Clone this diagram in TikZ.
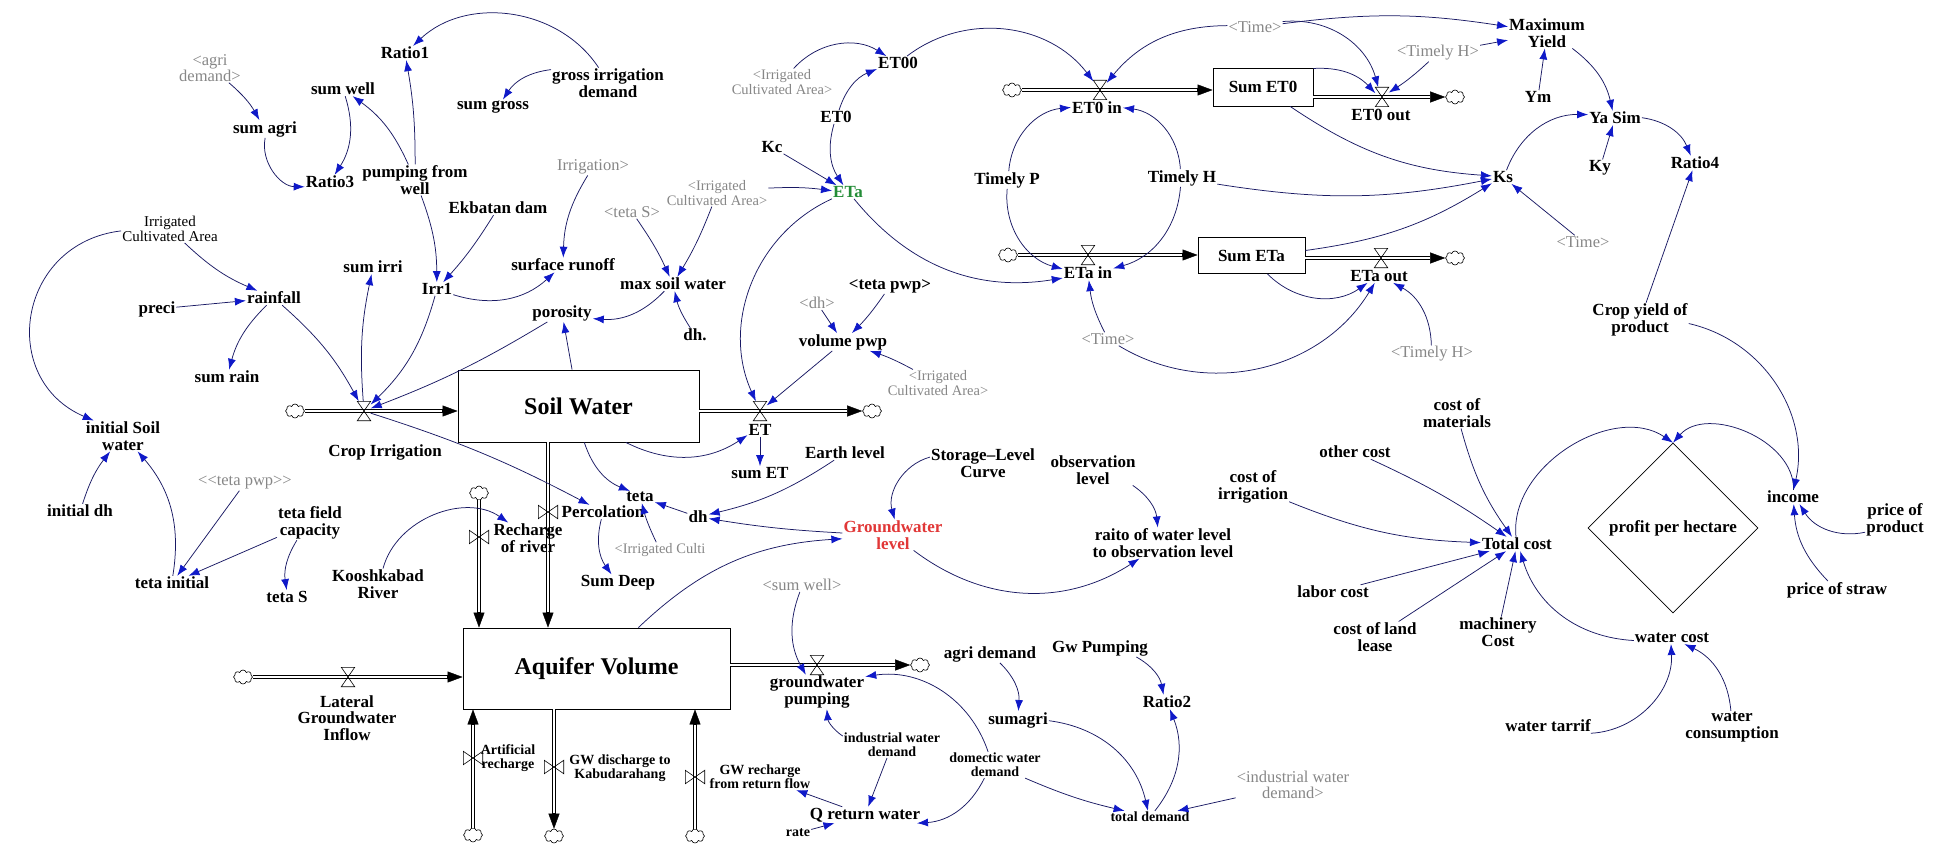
\documentclass[tikz,border=0pt]{standalone}
\usepackage{fontspec}
\setmainfont{Liberation Serif}
\usetikzlibrary{arrows.meta, shapes.geometric, shapes.symbols}

\definecolor{linkblue}{RGB}{25,25,100}
\definecolor{tipblue}{RGB}{15,25,200}
\definecolor{shadowgray}{RGB}{135,135,135}
\definecolor{gwred}{RGB}{225,55,55}
\definecolor{etagreen}{RGB}{35,140,55}

\newcommand\mainvarfont{\fontsize{17}{16.5}\selectfont\bfseries}
\newcommand\smallvarfont{\fontsize{14}{14}\selectfont\bfseries}
\newcommand\plainvarfont{\fontsize{15}{15}\selectfont}
\newcommand\shadowvarfont{\fontsize{16.5}{16}\selectfont}
\newcommand\smallshadowfont{\fontsize{14.5}{14.5}\selectfont}
\newcommand\stockfont{\fontsize{24}{24}\selectfont\bfseries}

\tikzset{
  var/.style={font=\mainvarfont, align=center, inner sep=1pt},
  smallvar/.style={font=\smallvarfont, align=center, inner sep=1pt},
  plainvar/.style={font=\plainvarfont, align=center, inner sep=1pt},
  shadowvar/.style={font=\shadowvarfont, text=shadowgray, align=center, inner sep=1pt},
  smallshadow/.style={font=\smallshadowfont, text=shadowgray, align=center, inner sep=1pt},
  stock/.style={draw, line width=0.9pt, inner sep=0pt},
  link/.style={draw=linkblue, line width=0.75pt, -{Latex[length=11pt, width=8pt, color=tipblue]}},
  pipe/.style={draw, line width=4.2pt, -{Triangle[length=15pt, width=11pt, line width=0.4pt]},
    postaction={draw=white, line width=2.2pt, -, shorten >=15.5pt}},
  valveh/.style={minimum width=13pt, minimum height=19pt, inner sep=0pt},
  valvev/.style={minimum width=19pt, minimum height=13pt, inner sep=0pt},
  valveline/.style={draw, line width=0.6pt},
  cloudbub/.style={cloud, cloud puffs=8, aspect=1.4, draw, fill=white, line width=0.6pt,
    minimum width=19pt, minimum height=14pt, inner sep=0pt},
}

\begin{document}
\begin{tikzpicture}[x=1pt, y=-1pt]
\useasboundingbox[fill=white] (0,0) rectangle (1943,848);

% stocks
\node[stock, minimum width=241pt, minimum height=72pt, font=\stockfont] (sw) at (578.5,406) {Soil Water};
\node[stock, minimum width=267pt, minimum height=81pt, font=\stockfont] (aq) at (596.5,668.5) {Aquifer Volume};
\node[stock, minimum width=100pt, minimum height=38pt, font=\mainvarfont] (set0) at (1263,87) {Sum ET0};
\node[stock, minimum width=107pt, minimum height=36pt, font=\mainvarfont] (seta) at (1251.5,255.5) {Sum ETa};

% clouds and valves
\node[cloudbub] (ccia) at (295,411) {};
\node[cloudbub] (cet) at (872,411) {};
\node[cloudbub] (crr) at (479,493) {};
\node[cloudbub] (clat) at (243,677) {};
\node[cloudbub] (cart) at (473,835) {};
\node[cloudbub] (cgwd) at (554,836) {};
\node[cloudbub] (cgwr) at (695,836) {};
\node[cloudbub] (cgwp) at (920,665) {};
\node[cloudbub] (ceti) at (1012,90) {};
\node[cloudbub] (ceto) at (1455,97) {};
\node[cloudbub] (cetai) at (1008,255) {};
\node[cloudbub] (cetao) at (1455,258) {};

\node[valveh] (vci) at (364,411) {};
\node[valveh] (vet) at (760,411) {};
\node[valveh] (vlat) at (348,677) {};
\node[valveh] (vgwp) at (817,665) {};
\node[valveh] (veti) at (1100,90) {};
\node[valveh] (veto) at (1382,97) {};
\node[valveh] (vetai) at (1088,255) {};
\node[valveh] (vetao) at (1381,258) {};
\node[valvev] (vperc) at (548,512) {};
\node[valvev] (vrr) at (479,537) {};
\node[valvev] (vart) at (473,758) {};
\node[valvev] (vgwd) at (554,767) {};
\node[valvev] (vgwr) at (695,777) {};

\draw[pipe] (ccia) -- (sw.west |- ccia);
\draw[pipe] (sw.east |- vet) -- (cet);
\draw[pipe] (sw.south -| vperc) -- (aq.north -| vperc);
\draw[pipe] (crr) -- (aq.north -| crr);
\draw[pipe] (clat) -- (aq.west |- clat);
\draw[pipe] (cart) -- (aq.south -| cart);
\draw[pipe] (aq.south -| cgwd) -- (cgwd);
\draw[pipe] (cgwr) -- (aq.south -| cgwr);
\draw[pipe] (aq.east |- vgwp) -- (cgwp);
\draw[pipe] (ceti) -- (set0.west |- ceti);
\draw[pipe] (set0.east |- veto) -- (ceto);
\draw[pipe] (cetai) -- (seta.west |- cetai);
\draw[pipe] (seta.east |- vetao) -- (cetao);

\foreach \v in {vci,vet,vlat,vgwp,veti,veto,vetai,vetao}
  \draw[valveline] (\v.north west) -- (\v.north east) -- (\v.south west) -- (\v.south east) -- cycle;
\foreach \v in {vperc,vrr,vart,vgwd,vgwr}
  \draw[valveline] (\v.north west) -- (\v.south west) -- (\v.north east) -- (\v.south east) -- cycle;

% flow labels
\node[var] (lci) at (385,452) {Crop Irrigation};
\node[var] (let) at (760,430) {ET};
\node[var] (lperc) at (603,512) {Percolation};
\node[var] (lrr) at (528,538) {Recharge\\of river};
\node[var] (llat) at (347,718) {Lateral\\Groundwater\\Inflow};
\node[smallvar] (lart) at (508,758) {Artificial\\recharge};
\node[smallvar] (lgwd) at (620,768) {GW discharge to\\Kabudarahang};
\node[smallvar] (lgwr) at (760,777) {GW recharge\\from return flow};
\node[var] (lgwp) at (817,692) {groundwater\\pumping};
\node[var] (leti) at (1097,108) {ET0 in};
\node[var] (leto) at (1381,115) {ET0 out};
\node[var] (letai) at (1088,273) {ETa in};
\node[var] (letao) at (1379,276) {ETa out};

% variables
\node[var] (ratioone) at (405,53) {Ratio1};
\node[shadowvar] (agrish) at (210,68) {<agri\\demand>};
\node[var] (sumwell) at (343,89) {sum well};
\node[var] (sumagri) at (265,129) {sum agri};
\node[var] (ratiothree) at (330,182) {Ratio3};
\node[var] (pumpwell) at (415,180) {pumping from\\well};
\node[var] (ekbatan) at (498,208) {Ekbatan dam};
\node[var] (gidemand) at (608,83) {gross irrigation\\demand};
\node[var] (sumgross) at (493,107) {sum gross};
\node[plainvar] (irrca) at (170,229) {Irrigated\\Cultivated Area};
\node[var] (sumirri) at (373,267) {sum irri};
\node[var] (irrone) at (437,289) {Irr1};
\node[var] (rainfall) at (274,298) {rainfall};
\node[var] (preci) at (157,309) {preci};
\node[var] (sumrain) at (227,377) {sum rain};
\node[shadowvar] (irrish) at (593,167) {Irrigation>};
\node[shadowvar] (tetash) at (632,212) {<teta S>};
\node[smallshadow] (irrcab) at (717,193) {<Irrigated\\Cultivated Area>};
\node[var] (surfrun) at (563,265) {surface runoff};
\node[var] (maxsw) at (673,284) {max soil water};
\node[var] (porosity) at (562,313) {porosity};
\node[var] (dhdot) at (695,335) {dh.};
\node[smallshadow] (irrcaa) at (782,82) {<Irrigated\\Cultivated Area>};
\node[var] (etoo) at (898,63) {ET00};
\node[var] (etzero) at (836,117) {ET0};
\node[var] (kc) at (772,147) {Kc};
\node[var, text=etagreen] (eta) at (848,192) {ETa};
\node[shadowvar] (dhsh) at (817,303) {<dh>};
\node[var] (tetapwp) at (890,286) {<teta pwp>};
\node[var] (volpwp) at (843,342) {volume pwp};
\node[smallshadow] (irrcac) at (938,383) {<Irrigated\\Cultivated Area>};
\node[var] (sumet) at (760,473) {sum ET};
\node[var] (earth) at (845,453) {Earth level};
\node[var] (teta) at (640,497) {teta};
\node[var] (dh) at (698,517) {dh};
\node[smallshadow] (irrcad) at (660,550) {<Irrigated Culti};
\node[var] (sumdeep) at (618,583) {Sum Deep};
\node[var, text=gwred] (gwlevel) at (893,535) {Groundwater\\level};
\node[var] (slcurve) at (983,463) {Storage–Level\\Curve};
\node[var] (obslevel) at (1093,470) {observation\\level};
\node[var] (raito) at (1163,543) {raito of water level\\to observation level};
\node[shadowvar] (sumwellsh) at (802,585) {<sum well>};
\node[smallvar] (indwd) at (892,745) {industrial water\\demand};
\node[var] (qret) at (865,815) {Q return water};
\node[smallvar] (rate) at (798,833) {rate};
\node[smallvar] (domwd) at (995,765) {domectic water\\demand};
\node[var] (agrid) at (990,654) {agri demand};
\node[var] (gwpump) at (1100,648) {Gw Pumping};
\node[var] (sumagrib) at (1018,720) {sumagri};
\node[var] (ratiotwo) at (1167,702) {Ratio2};
\node[smallvar] (totdem) at (1150,817) {total demand};
\node[shadowvar] (indwdsh) at (1293,785) {<industrial water\\demand>};
\node[var] (othercost) at (1355,452) {other cost};
\node[var] (costirr) at (1253,487) {cost of\\irrigation};
\node[var] (labor) at (1333,592) {labor cost};
\node[var] (landlease) at (1375,637) {cost of land\\lease};
\node[var] (costmat) at (1457,413) {cost of\\materials};
\node[var] (machinery) at (1498,632) {machinery\\Cost};
\node[var] (totcost) at (1517,544) {Total cost};
\node[diamond, draw, line width=0.6pt, minimum width=170pt, minimum height=170pt, inner sep=0pt] (profit) at (1673,528) {};
\node[var] (profittxt) at (profit.center) {profit per hectare};
\node[var] (income) at (1793,497) {income};
\node[var] (priceprod) at (1895,520) {price of\\product};
\node[var] (pricestraw) at (1837,590) {price of straw};
\node[var] (watercost) at (1672,638) {water cost};
\node[var] (watertar) at (1548,726) {water tarrif};
\node[var] (watercons) at (1732,727) {water\\consumption};
\node[var] (maxyield) at (1547,33) {Maximum\\Yield};
\node[var] (ym) at (1538,97) {Ym};
\node[var] (yasim) at (1615,118) {Ya Sim};
\node[var] (ky) at (1600,168) {Ky};
\node[var] (ratiofour) at (1695,163) {Ratio4};
\node[var] (ks) at (1503,177) {Ks};
\node[shadowvar] (timesha) at (1583,242) {<Time>};
\node[var] (cropyield) at (1640,320) {Crop yield of\\product};
\node[shadowvar] (timeshb) at (1255,27) {<Time>};
\node[shadowvar] (timelyhsha) at (1438,53) {<Timely H>};
\node[var] (timelyp) at (1007,180) {Timely P};
\node[var] (timelyh) at (1182,178) {Timely H};
\node[shadowvar] (timeshc) at (1108,339) {<Time>};
\node[shadowvar] (timelyhshb) at (1432,354) {<Timely H>};
\node[var] (initsw) at (123,436) {initial Soil\\water};
\node[var] (initdh) at (80,511) {initial dh};
\node[shadowvar] (tetapwpsh) at (245,483) {<\kern0pt<teta pwp>\kern0pt>};
\node[var] (tetafc) at (310,523) {teta field\\capacity};
\node[var] (tetainit) at (172,583) {teta initial};
\node[var] (tetas) at (287,597) {teta S};
\node[var] (koosh) at (378,584) {Kooshkabad\\River};

% links
\draw[link] (gidemand) to[bend right=50] (ratioone);
\draw[link] (gidemand) to[bend right=25] (sumgross);
\draw[link] (pumpwell) to[bend right=5] (ratioone);
\draw[link] (pumpwell) to[bend right=15] (sumwell);
\draw[link] (sumwell) to[bend left=25] (ratiothree);
\draw[link] (agrish) to[bend left=10] (sumagri);
\draw[link] (sumagri) to[bend right=50] (ratiothree);
\draw[link] (pumpwell) to[bend left=10] (irrone);
\draw[link] (ekbatan) to[bend left=5] (irrone);
\draw[link] (irrca) to[bend right=10] (rainfall);
\draw[link] (irrca) to[bend right=75, looseness=1.4] (initsw);
\draw[link] (preci) -- (rainfall);
\draw[link] (rainfall) to[bend right=15] (sumrain);
\draw[link] (rainfall) to[bend left=10] (vci);
\draw[link] (vci) to[bend left=8] (sumirri);
\draw[link] (irrone) to[bend left=15] (vci);
\draw[link] (porosity) to[bend left=5] (vci);
\draw[link] (irrone) to[bend right=30] (surfrun);
\draw[link] (irrish) to[bend right=15] (surfrun);
\draw[link] (tetash) to[bend left=5] (maxsw);
\draw[link] (irrcab) to[bend left=5] (maxsw);
\draw[link] (maxsw) to[bend left=25] (porosity);
\draw[link] (dhdot) to[bend left=10] (maxsw);
\draw[link] (sw) -- (porosity);
\draw[link] (vci) to[bend left=5] (lperc);
\draw[link] (sw) to[bend right=25] (teta);
\draw[link] (sw) to[bend right=30] (let);
\draw[link] (let) -- (sumet);
\draw[link] (eta) to[bend right=45] (vet);
\draw[link] (volpwp) -- (vet);
\draw[link] (dhsh) -- (volpwp);
\draw[link] (tetapwp) to[bend left=5] (volpwp);
\draw[link] (irrcac) to[bend right=5] (volpwp);
\draw[link] (dh) -- (teta);
\draw[link] (earth) to[bend left=10] (dh);
\draw[link] (gwlevel) to[bend left=3] (dh);
\draw[link] (irrcad) to[bend left=5] (teta);
\draw[link] (lperc) to[bend right=25] (sumdeep);
\draw[link] (slcurve) to[bend right=45] (gwlevel);
\draw[link] (aq) to[bend left=20] (gwlevel);
\draw[link] (gwlevel) to[bend right=35] (raito);
\draw[link] (obslevel) to[bend left=25] (raito);
\draw[link] (koosh) to[bend left=55] (lrr);
\draw[link] (sumwellsh) to[bend right=25] (lgwp);
\draw[link] (domwd) to[bend right=40] (lgwp);
\draw[link] (indwd) to[bend left=25] (lgwp);
\draw[link] (indwd) -- (qret);
\draw[link] (domwd) to[bend left=30] (qret);
\draw[link] (qret) -- (lgwr);
\draw[link] (rate) -- (qret);
\draw[link] (agrid) to[bend left=25] (sumagrib);
\draw[link] (gwpump) to[bend left=25] (ratiotwo);
\draw[link] (sumagrib) to[bend left=35] (totdem);
\draw[link] (totdem) to[bend right=30] (ratiotwo);
\draw[link] (domwd) to[bend right=5] (totdem);
\draw[link] (indwdsh) -- (totdem);
\draw[link] (othercost) to[bend left=5] (totcost);
\draw[link] (costirr) to[bend right=10] (totcost);
\draw[link] (labor) -- (totcost);
\draw[link] (landlease) -- (totcost);
\draw[link] (costmat) to[bend right=10] (totcost);
\draw[link] (machinery) -- (totcost);
\draw[link] (totcost) to[bend left=65] (profit.north);
\draw[link] (income) to[bend right=70] (profit.north);
\draw[link] (cropyield) to[bend left=45] (income);
\draw[link] (priceprod) to[bend left=35] (income);
\draw[link] (pricestraw) to[bend left=20] (income);
\draw[link] (watercost) to[bend left=35] (totcost);
\draw[link] (watertar) to[bend right=45] (watercost);
\draw[link] (watercons) to[bend right=30] (watercost);
\draw[link] (cropyield) -- (ratiofour);
\draw[link] (yasim) to[bend left=30] (ratiofour);
\draw[link] (maxyield) to[bend left=20] (yasim);
\draw[link] (ym) -- (maxyield);
\draw[link] (ky) -- (yasim);
\draw[link] (ks) to[bend left=35] (yasim);
\draw[link] (timesha) -- (ks);
\draw[link] (set0) to[bend right=15] (ks);
\draw[link] (timelyh) to[bend right=10] (ks);
\draw[link] (seta) to[bend right=12] (ks);
\draw[link] (set0) to[bend left=25] (veto);
\draw[link] (timeshb) to[bend left=40] (veto);
\draw[link] (timeshb) to[bend left=8] (maxyield);
\draw[link] (timeshb) to[bend right=25] (veti);
\draw[link] (etoo) to[bend left=45] (veti);
\draw[link] (irrcaa) to[bend left=40] (etoo);
\draw[link] (etzero) to[bend left=25] (etoo);
\draw[link] (etzero) to[bend right=25] (eta);
\draw[link] (kc) -- (eta);
\draw[link] (irrcab) to[bend left=5] (eta);
\draw[link] (eta) to[bend right=30] (letai);
\draw[link] (timelyp) to[bend left=40] (leti);
\draw[link] (timelyp) to[bend right=40] (letai);
\draw[link] (timelyh) to[bend right=40] (leti);
\draw[link] (timelyh) to[bend left=35] (letai);
\draw[link] (timeshc) to[bend left=10] (letai);
\draw[link] (timeshc) to[bend right=45] (letao);
\draw[link] (seta) to[bend right=40] (letao);
\draw[link] (timelyhshb) to[bend right=30] (letao);
\draw[link] (timelyhsha) to[bend left=5] (veto);
\draw[link] (timelyhsha) -- (maxyield);
\draw[link] (initdh) to[bend left=10] (initsw);
\draw[link] (tetainit) to[bend right=25] (initsw);
\draw[link] (tetapwpsh) -- (tetainit);
\draw[link] (tetafc) -- (tetainit);
\draw[link] (tetafc) to[bend right=20] (tetas);
\end{tikzpicture}
\end{document}
